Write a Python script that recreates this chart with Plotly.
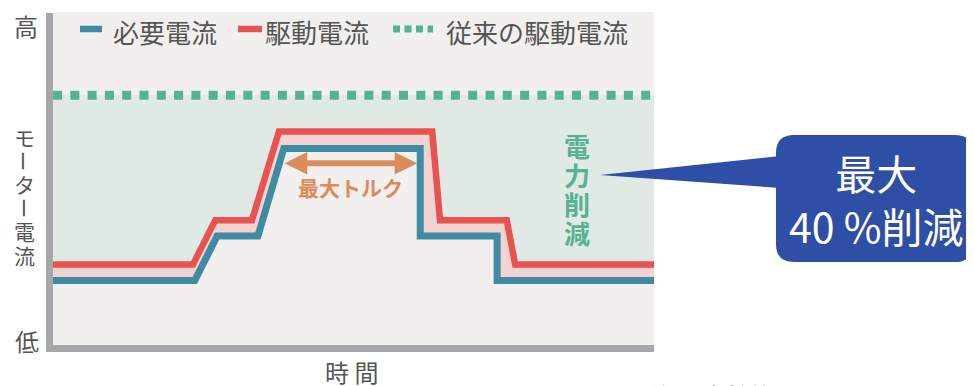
import plotly.graph_objects as go

FONT = "Noto Sans CJK JP"

# 時間 (0-100) と電流 (0-100, 相対値)
time_req = [0, 23.6, 27.3, 34.1, 38.4, 61.1, 61.1, 73.9, 73.9, 100]
current_req = [19.4, 19.4, 32.7, 32.7, 59.0, 59.0, 32.7, 32.7, 19.4, 19.4]
time_drive = [0, 23.3, 27.0, 33.1, 37.6, 63.1, 64.4, 75.5, 76.9, 100]
current_drive = [24.2, 24.2, 37.5, 37.5, 64.1, 64.1, 37.5, 37.5, 24.2, 24.2]
time_conv = [0, 100]
current_conv = [75, 75]

# 最大トルク区間
torque_start, torque_end, torque_level = 38.3, 60.6, 54.6

legend_names = ["必要電流", "駆動電流", "従来の駆動電流"]
callout_text = "最大<br>40 %削減"

C_REQ = "#3f8ba3"
C_DRIVE = "#e85351"
C_CONV = "#55b394"
C_SAVE = "#e0e9e4"
C_GAP = "#f1d3d1"
C_BG = "#f1f0ee"
C_AXIS = "#a7a7a9"
C_TXT = "#555555"
C_ORANGE = "#dc8c5b"
C_BOX = "#2f4ea5"

# ページ余白 (body margin 8px) を差し引いた図のサイズ
PAD = 8
W, H = 974 - PAD, 386 - PAD
# 描画領域 (ウィンドウ px): x 53..654, y 12..345
L, R, T, B = 53, 654, 12, 345


def X(px):
    return (px - L) / (R - L)


def Y(py):
    return (B - py) / (B - T)


def label(px, py, text, size, color=C_TXT, xanchor="center", yanchor="middle", **kw):
    return dict(xref="paper", yref="paper", x=X(px), y=Y(py), xanchor=xanchor, yanchor=yanchor,
                text=text, showarrow=False, font=dict(size=size, color=color), **kw)


fig = go.Figure()
fig.add_trace(go.Scatter(
    x=time_conv, y=current_conv, mode="lines",
    line=dict(color=C_CONV, width=9, dash="9px,8.3px"),
    hoverinfo="skip", name=legend_names[2]
))
fig.add_trace(go.Scatter(
    x=time_drive, y=current_drive, mode="lines", fill="tonexty", fillcolor=C_SAVE,
    line=dict(color=C_DRIVE, width=6.5),
    hoverinfo="skip", name=legend_names[1]
))
fig.add_trace(go.Scatter(
    x=time_req, y=current_req, mode="lines", fill="tonexty", fillcolor=C_GAP,
    line=dict(color=C_REQ, width=7),
    hoverinfo="skip", name=legend_names[0]
))

shapes = []
# 軸線
shapes.append(dict(type="path", xref="paper", yref="paper",
                   path=f"M {X(49.5)},{Y(13)} L {X(49.5)},{Y(348.5)} L {X(654)},{Y(348.5)}",
                   line=dict(color=C_AXIS, width=7)))

# 吹き出し
x0, x1, y0, y1, r = 776, 973, 135, 262, 18
box = (f"M {X(x0 + r)},{Y(y0)} L {X(x1 - r)},{Y(y0)} Q {X(x1)},{Y(y0)} {X(x1)},{Y(y0 + r)} "
       f"L {X(x1)},{Y(y1 - r)} Q {X(x1)},{Y(y1)} {X(x1 - r)},{Y(y1)} "
       f"L {X(x0 + r)},{Y(y1)} Q {X(x0)},{Y(y1)} {X(x0)},{Y(y1 - r)} "
       f"L {X(x0)},{Y(y0 + r)} Q {X(x0)},{Y(y0)} {X(x0 + r)},{Y(y0)} Z")
shapes.append(dict(type="path", xref="paper", yref="paper", path=box,
                   fillcolor=C_BOX, line=dict(width=0)))
shapes.append(dict(type="path", xref="paper", yref="paper",
                   path=f"M {X(600)},{Y(175)} L {X(780)},{Y(156)} L {X(780)},{Y(188)} Z",
                   fillcolor=C_BOX, line=dict(width=0)))

# 凡例
shapes.append(dict(type="line", xref="paper", yref="paper", x0=X(80), x1=X(102), y0=Y(29), y1=Y(29),
                   line=dict(color=C_REQ, width=6.5)))
shapes.append(dict(type="line", xref="paper", yref="paper", x0=X(238), x1=X(262), y0=Y(29), y1=Y(29),
                   line=dict(color=C_DRIVE, width=6.5)))
shapes.append(dict(type="line", xref="paper", yref="paper", x0=X(393), x1=X(433), y0=Y(29), y1=Y(29),
                   line=dict(color=C_CONV, width=7, dash="7px,4.5px")))

ann = []
for name, px in zip(legend_names, [111, 263, 444]):
    ann.append(label(px, 32, name, 26, xanchor="left"))

# 軸ラベル
ann.append(label(26, 25, "高", 24))
ann.append(label(27, 340, "低", 24))
for i, ch in enumerate("モーター電流"):
    ann.append(label(24, 137 + 23.5 * i, ch, 21, textangle=90 if ch == "ー" else 0))
ann.append(label(351, 371, "時 間", 24))
ann.append(label(641, 376, "[注3] 当社比", 24, xanchor="left", yanchor="top"))

# 最大トルク
ann.append(dict(x=torque_end, y=torque_level, ax=torque_start, ay=torque_level, axref="x", ayref="y",
                text="", showarrow=True, arrowhead=2, startarrowhead=2, arrowside="end+start",
                arrowwidth=6, arrowsize=0.75, startarrowsize=0.75, arrowcolor=C_ORANGE))
ann.append(label(350, 187, "<b>最大トルク</b>", 21, color=C_ORANGE))

# 電力削減
for i, ch in enumerate("電力削減"):
    ann.append(label(577, 145 + 29 * i, f"<b>{ch}</b>", 26, color=C_CONV))

ann.append(label(876, 198, callout_text, 41, color="white"))

fig.update_layout(
    width=W, height=H,
    margin=dict(l=L - PAD, r=W - (R - PAD), t=T - PAD, b=H - (B - PAD)),
    paper_bgcolor="white", plot_bgcolor=C_BG,
    font=dict(family=FONT, color=C_TXT),
    showlegend=False,
    xaxis=dict(range=[0, 100], showgrid=False, zeroline=False, showticklabels=False, fixedrange=True),
    yaxis=dict(range=[0, 100], showgrid=False, zeroline=False, showticklabels=False, fixedrange=True),
    shapes=shapes, annotations=ann,
)

fig.write_html("out.html")
